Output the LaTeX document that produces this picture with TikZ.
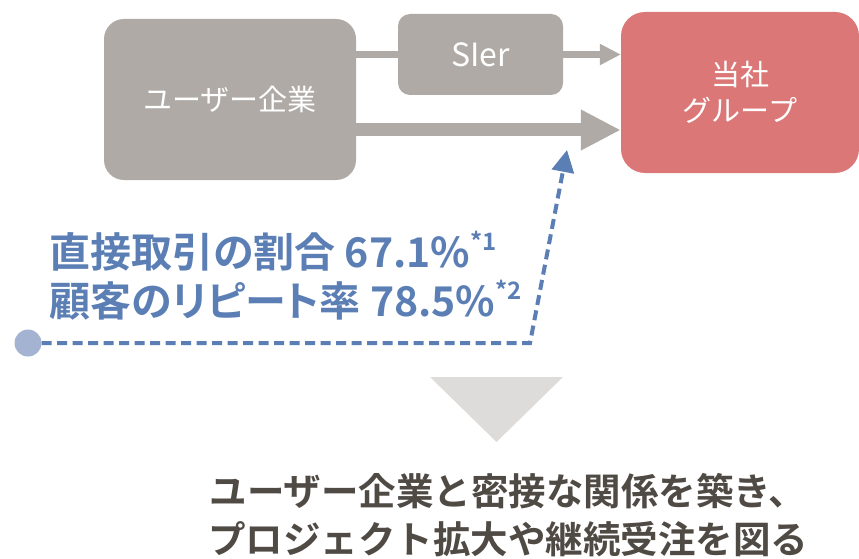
\documentclass[tikz,border=0pt]{standalone}
\usepackage{fontspec}
\usepackage{tikz}
\usetikzlibrary{positioning,arrows.meta}
\newfontfamily\jp{Noto Sans CJK JP}[BoldFont={Noto Sans CJK JP Bold}]
\newfontfamily\jpp{Noto Sans CJK JP}[BoldFont={Noto Sans CJK JP Bold},RawFeature=+palt]
\definecolor{boxgray}{HTML}{AFAAA5}
\definecolor{boxred}{HTML}{DB7877}
\definecolor{statblue}{HTML}{5B7FB5}
\definecolor{dotblue}{HTML}{A3B3D1}
\definecolor{trigray}{HTML}{DEDCDA}
\definecolor{textgray}{HTML}{504A45}
\newcommand{\supmark}[1]{\raisebox{17pt}{\fontsize{24}{24}\selectfont #1}}

\begin{document}
\begin{tikzpicture}[x=1pt,y=-1pt,every node/.style={inner sep=0pt,font=\jp}]
			\useasboundingbox (0,0) rectangle (859,559);
			\node [fill=boxgray, rounded corners=20pt, minimum width=252pt, minimum height=161pt, text=white, font=\jp\fontsize{29}{36}\selectfont] (n1) at (230,99.5) {ユーザー企業};
			\node [fill=boxgray, rounded corners=12pt, minimum width=165pt, minimum height=81pt, text=white, font=\jp\fontsize{32}{36}\selectfont] (n2) at (480.5,54.5) {SIer};
			\node [fill=boxred, rounded corners=24pt, minimum width=238pt, minimum height=161pt, text=white, align=center, font=\jp\fontsize{29}{36}\selectfont] (n3) at (740,92.5) {当社\\グループ};

			\coordinate (c1) at (0,130);
			\draw[boxgray, line width=7pt] (n1.east |- n2.west) -- (n2.west);
			\draw[boxgray, line width=7pt, -{Triangle[length=21pt,width=20pt]}] (n2.east) -- (n3.west |- n2.east);
			\draw[boxgray, line width=13pt, -{Triangle[length=40pt,width=38pt]}] (n1.east |- c1) -- (n3.west |- c1);

			\node [circle, fill=dotblue, minimum size=27pt] (d1) at (28,343) {};
			\coordinate (c2) at (530,343);
			\coordinate (c3) at (567,150);
			\draw[statblue, line width=4pt, dash pattern=on 10pt off 5.5pt, -{Triangle[length=22pt,width=22pt]}] (d1) -- (c2) -- (c3);

			\node [anchor=west, align=left, text=statblue, font=\jpp\bfseries\fontsize{41}{49}\selectfont] (t1) at (49,275.5) {直接取引の割合 67.1\%\supmark{*1}\\顧客のリピート率 78.5\%\supmark{*2}};

			\fill[trigray] (430,377) -- (563,377) -- (496.5,442) -- cycle;
			\node [align=center, text=textgray, font=\jp\bfseries\fontsize{37.5}{48}\selectfont] (t2) at (508,515) {ユーザー企業と密接な関係を築き、\\プロジェクト拡大や継続受注を図る};
		\end{tikzpicture}
\end{document}
